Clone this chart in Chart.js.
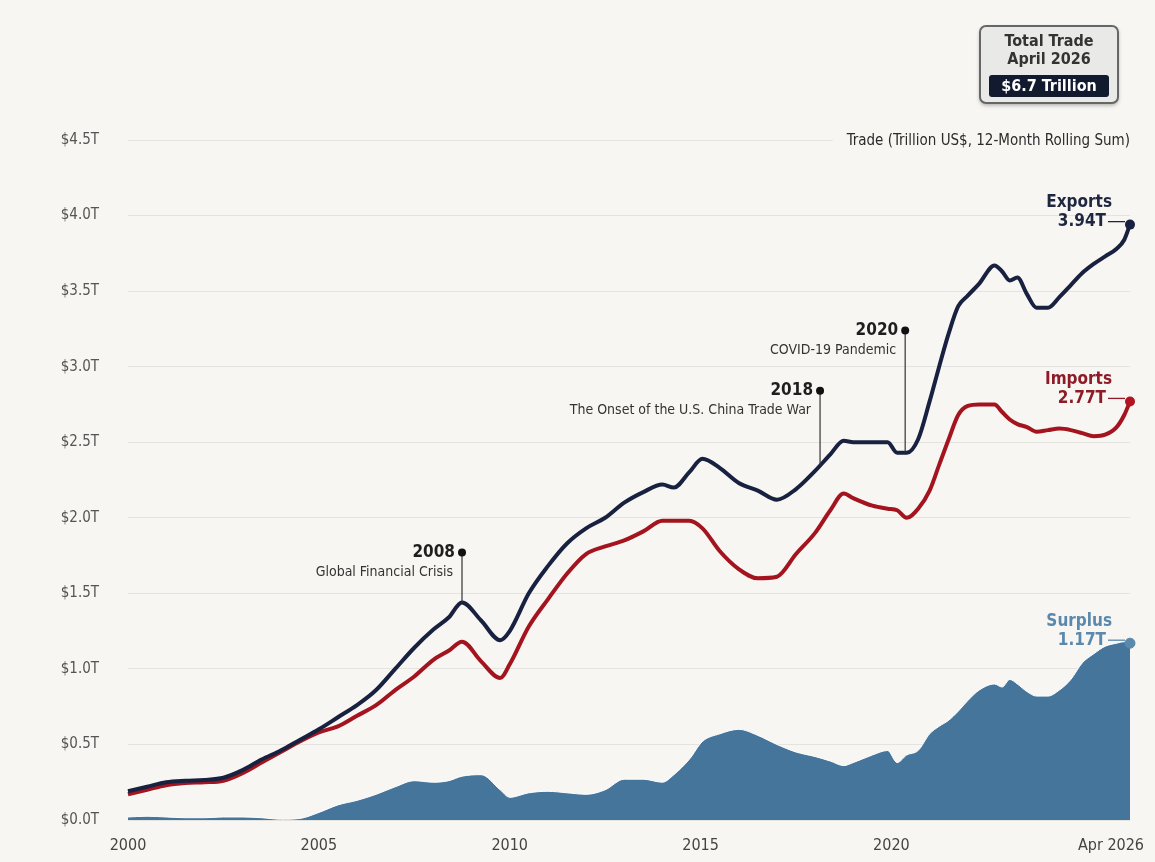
<!DOCTYPE html>
<html>
<head>
<meta charset="utf-8">
<script src="https://cdn.jsdelivr.net/npm/chart.js@4.4.1/dist/chart.umd.min.js"></script>
<style>
  html, body { margin: 0; padding: 0; background: #f7f6f2; }
  #wrap { width: 1155px; height: 862px; }
</style>
</head>
<body>
<div id="wrap"><canvas id="canvasChart" width="1155" height="862"></canvas></div>
<script>
const years = [2000.0, 2000.5, 2001.0, 2001.5, 2002.0, 2002.5, 2003.0, 2003.5, 2004.0, 2004.5,
  2005.0, 2005.5, 2006.0, 2006.5, 2007.0, 2007.5, 2008.0, 2008.4, 2008.75, 2009.25,
  2009.75, 2010.0, 2010.5, 2011.0, 2011.5, 2012.0, 2012.5, 2013.0, 2013.5, 2014.0,
  2014.3, 2014.7, 2015.05, 2015.5, 2016.0, 2016.5, 2017.0, 2017.5, 2018.0, 2018.4,
  2018.75, 2019.0, 2019.5, 2019.9, 2020.15, 2020.4, 2020.7, 2021.0, 2021.25, 2021.5,
  2021.75, 2022.0, 2022.3, 2022.7, 2022.9, 2023.1, 2023.3, 2023.55, 2023.8, 2024.1,
  2024.4, 2024.7, 2025.0, 2025.3, 2025.6, 2025.9, 2026.1, 2026.25];

const exportsT = [0.19, 0.22, 0.25, 0.26, 0.265, 0.28, 0.33, 0.40, 0.46, 0.53,
  0.60, 0.68, 0.76, 0.86, 1.00, 1.14, 1.26, 1.34, 1.44, 1.32,
  1.19, 1.25, 1.50, 1.68, 1.83, 1.93, 2.00, 2.10, 2.17, 2.22,
  2.20, 2.30, 2.39, 2.33, 2.23, 2.18, 2.12, 2.19, 2.31, 2.42,
  2.51, 2.50, 2.50, 2.50, 2.43, 2.43, 2.52, 2.77, 3.00, 3.22,
  3.40, 3.47, 3.55, 3.67, 3.63, 3.57, 3.59, 3.48, 3.39, 3.39,
  3.46, 3.54, 3.62, 3.68, 3.73, 3.78, 3.84, 3.94];

const importsT = [0.17, 0.20, 0.23, 0.245, 0.25, 0.26, 0.31, 0.38, 0.45, 0.52,
  0.58, 0.62, 0.69, 0.76, 0.86, 0.95, 1.06, 1.12, 1.18, 1.05,
  0.94, 1.03, 1.28, 1.46, 1.63, 1.76, 1.81, 1.85, 1.91, 1.98,
  1.98, 1.98, 1.93, 1.78, 1.66, 1.60, 1.61, 1.76, 1.90, 2.05,
  2.16, 2.13, 2.08, 2.06, 2.05, 2.00, 2.06, 2.18, 2.35, 2.52,
  2.68, 2.74, 2.75, 2.75, 2.70, 2.65, 2.62, 2.60, 2.57, 2.58,
  2.59, 2.58, 2.56, 2.54, 2.55, 2.60, 2.68, 2.77];

const surplusT = [0.02, 0.025, 0.02, 0.015, 0.015, 0.02, 0.02, 0.015, 0.005, 0.01,
  0.05, 0.10, 0.13, 0.17, 0.22, 0.26, 0.25, 0.26, 0.29, 0.30,
  0.20, 0.15, 0.18, 0.19, 0.18, 0.17, 0.20, 0.27, 0.27, 0.25,
  0.30, 0.40, 0.52, 0.57, 0.60, 0.56, 0.50, 0.45, 0.42, 0.39,
  0.36, 0.38, 0.43, 0.46, 0.38, 0.43, 0.46, 0.57, 0.62, 0.66,
  0.72, 0.79, 0.86, 0.90, 0.88, 0.93, 0.90, 0.85, 0.82, 0.82,
  0.86, 0.93, 1.04, 1.10, 1.15, 1.17, 1.18, 1.17];

const xTickYears = [2000, 2005, 2010, 2015, 2020];
const lastLabel = 'Apr 2026';

// event markers: year, dot height (T), title, text
const eventYears = [2008.75, 2018.13, 2020.36];
const eventDotT = [1.77, 2.84, 3.24];
const eventTitles = ['2008', '2018', '2020'];
const eventTexts = ['Global Financial Crisis', 'The Onset of the U.S. China Trade War', 'COVID-19 Pandemic'];

const FONT = "'Liberation Sans Narrow', 'DejaVu Sans Condensed', Roboto, 'Noto Sans', sans-serif";
const NAVY = '#18213f';
const RED = '#a3141f';
const BLUE = '#46759c';

function pts(vals) {
  return vals.map((v, i) => ({ x: years[i], y: v }));
}
function lastDot(ctx) {
  return ctx.dataIndex === years.length - 1 ? 5 : 0;
}

// exports height at an event year (bottom of the marker stem)
function exportsAt(yr) {
  for (let i = 1; i < years.length; i++) {
    if (yr <= years[i]) {
      let t = (yr - years[i - 1]) / (years[i] - years[i - 1]);
      return exportsT[i - 1] + t * (exportsT[i] - exportsT[i - 1]);
    }
  }
  return exportsT[exportsT.length - 1];
}

const extrasPlugin = {
  id: 'extras',
  afterDatasetsDraw(chart) {
    const c = chart.ctx;
    const xs = chart.scales.x, ys = chart.scales.y;
    c.save();

    // x labels
    c.fillStyle = '#444';
    c.font = '16px ' + FONT;
    c.textBaseline = 'middle';
    c.textAlign = 'center';
    xTickYears.forEach(yr => c.fillText(String(yr), xs.getPixelForValue(yr), 846));
    c.textAlign = 'right';
    c.fillText(lastLabel, xs.getPixelForValue(years[years.length - 1]) + 14, 846);

    // subtitle over the top grid line
    c.font = '15px ' + FONT;
    c.textAlign = 'right';
    let sub = 'Trade (Trillion US$, 12-Month Rolling Sum)';
    let sw = c.measureText(sub).width;
    c.fillStyle = '#f7f6f2';
    c.fillRect(1130 - sw - 14, 130, sw + 20, 22);
    c.fillStyle = '#2b2b2b';
    c.fillText(sub, 1130, 141);

    // event markers
    eventYears.forEach((yr, i) => {
      let x = xs.getPixelForValue(yr);
      let yTop = ys.getPixelForValue(eventDotT[i]);
      let yBot = ys.getPixelForValue(exportsAt(yr));
      c.strokeStyle = '#333';
      c.lineWidth = 1.2;
      c.beginPath();
      c.moveTo(x, yTop);
      c.lineTo(x, yBot);
      c.stroke();
      c.fillStyle = '#111';
      c.beginPath();
      c.arc(x, yTop, 4, 0, Math.PI * 2);
      c.fill();
      c.textAlign = 'right';
      c.fillStyle = '#1e1e1e';
      c.font = '600 17px ' + FONT;
      c.fillText(eventTitles[i], x - 7, yTop);
      c.fillStyle = '#333';
      c.font = '14px ' + FONT;
      c.fillText(eventTexts[i], x - 9, yTop + 20);
    });

    // end labels
    const ends = [
      { name: 'Exports', val: '3.94T', v: exportsT[exportsT.length - 1], color: '#1f2640' },
      { name: 'Imports', val: '2.77T', v: importsT[importsT.length - 1], color: '#8e1b27' },
      { name: 'Surplus', val: '1.17T', v: surplusT[surplusT.length - 1], color: '#5a89ad' }
    ];
    let xEnd = xs.getPixelForValue(years[years.length - 1]);
    ends.forEach(e => {
      let y = ys.getPixelForValue(e.v);
      c.fillStyle = e.color;
      c.textAlign = 'right';
      c.font = '600 17px ' + FONT;
      c.fillText(e.name, xEnd - 18, y - 22);
      c.fillText(e.val, xEnd - 24, y - 3);
      c.strokeStyle = e.color;
      c.lineWidth = 1.3;
      c.beginPath();
      c.moveTo(xEnd - 22, y - 3);
      c.lineTo(xEnd - 5, y - 3);
      c.stroke();
    });

    // top-right total box
    c.shadowColor = 'rgba(0,0,0,0.35)';
    c.shadowBlur = 4;
    c.shadowOffsetY = 2;
    c.fillStyle = '#e9e9e7';
    c.beginPath();
    c.roundRect(980, 26, 138, 77, 6);
    c.fill();
    c.shadowColor = 'transparent';
    c.strokeStyle = '#666';
    c.lineWidth = 2;
    c.stroke();
    c.textAlign = 'center';
    c.fillStyle = '#333';
    c.font = 'bold 16px ' + FONT;
    c.fillText('Total Trade', 1049, 42);
    c.fillText('April 2026', 1049, 60);
    c.fillStyle = '#121a30';
    c.beginPath();
    c.roundRect(989, 75, 120, 22, 3);
    c.fill();
    c.fillStyle = '#fff';
    c.font = 'bold 16px ' + FONT;
    c.fillText('$6.7 Trillion', 1049, 86.5);

    c.restore();
  }
};

let ctx = document.getElementById('canvasChart').getContext('2d');
let tradeChart = new Chart(ctx, {
  type: 'line',
  data: {
    datasets: [
      {
        label: 'Exports',
        data: pts(exportsT),
        borderColor: NAVY,
        backgroundColor: NAVY,
        borderWidth: 4,
        fill: false,
        clip: false,
        cubicInterpolationMode: 'monotone',
        pointRadius: lastDot,
        pointBackgroundColor: NAVY,
        pointBorderWidth: 0,
        order: 1
      },
      {
        label: 'Imports',
        data: pts(importsT),
        borderColor: RED,
        backgroundColor: RED,
        borderWidth: 4,
        fill: false,
        clip: false,
        cubicInterpolationMode: 'monotone',
        pointRadius: lastDot,
        pointBackgroundColor: '#b3141f',
        pointBorderWidth: 0,
        order: 2
      },
      {
        label: 'Surplus',
        data: pts(surplusT),
        borderColor: '#ffffff',
        backgroundColor: BLUE,
        borderWidth: 1,
        fill: 'origin',
        clip: false,
        cubicInterpolationMode: 'monotone',
        pointRadius: lastDot,
        pointBackgroundColor: '#5a89ad',
        pointBorderColor: '#5a89ad',
        order: 3
      }
    ]
  },
  options: {
    responsive: false,
    animation: false,
    devicePixelRatio: 1,
    layout: { padding: { top: 140, left: 2, right: 25, bottom: 42 } },
    plugins: { legend: { display: false }, tooltip: { enabled: false } },
    scales: {
      x: {
        type: 'linear',
        display: false,
        min: 2000,
        max: 2026.25
      },
      y: {
        min: 0,
        max: 4.5,
        border: { display: false },
        grid: { color: '#e3e3e0', drawTicks: false, lineWidth: 1 },
        ticks: {
          stepSize: 0.5,
          padding: 29,
          color: '#555',
          font: { size: 15, family: FONT },
          callback: v => '$' + v.toFixed(1) + 'T'
        },
        afterFit: s => { s.width = 126; }
      }
    }
  },
  plugins: [extrasPlugin]
});
</script>
</body>
</html>
